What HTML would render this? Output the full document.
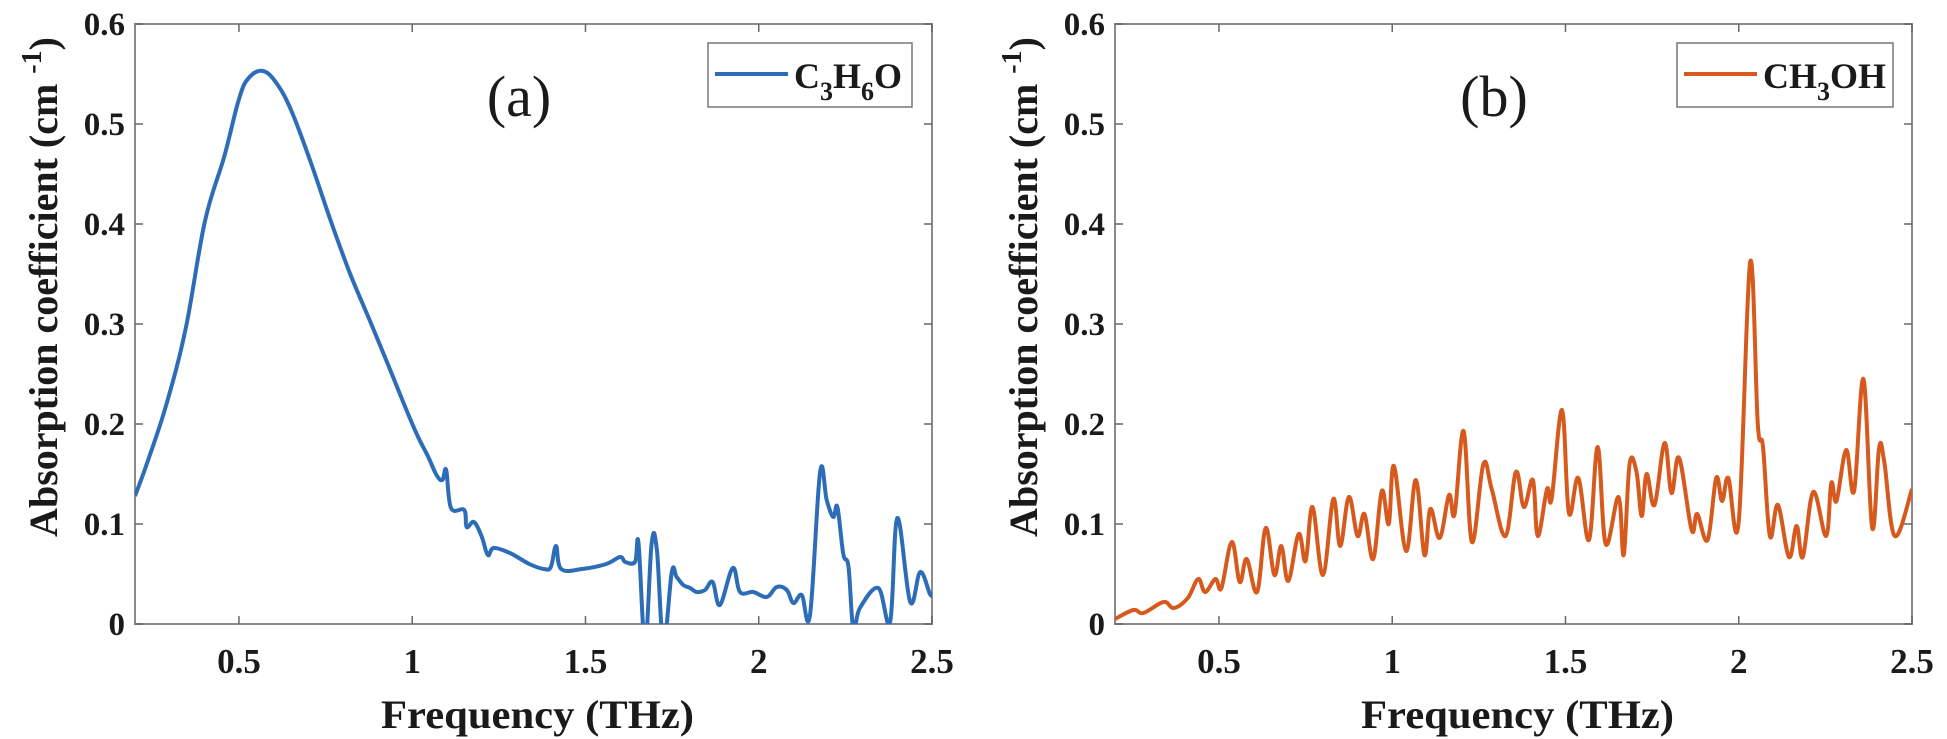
<!DOCTYPE html>
<html><head><meta charset="utf-8"><style>
html,body{margin:0;padding:0;background:#fff;}
svg{display:block;}
text{font-family:"Liberation Serif",serif;fill:#1a1a1a;}
</style></head><body>
<svg id="chart" width="1947" height="739" viewBox="0 0 1947 739" xmlns="http://www.w3.org/2000/svg">
<defs>
<clipPath id="clipA"><rect x="135" y="24" width="797" height="600"/></clipPath>
<clipPath id="clipB"><rect x="1115" y="24" width="797" height="600"/></clipPath>
</defs>
<g id="panelA"></g>
<g id="panelB"></g>
</svg>
<script>
const xTicks = [0.5, 1, 1.5, 2, 2.5];
const xTickLabels = ["0.5", "1", "1.5", "2", "2.5"];
const yTicks = [0, 0.1, 0.2, 0.3, 0.4, 0.5, 0.6];
const yTickLabels = ["0", "0.1", "0.2", "0.3", "0.4", "0.5", "0.6"];
const xDomain = [0.2, 2.5];
const yDomain = [0, 0.6];

const acetoneFreq = [0.2,0.235,0.29,0.346,0.402,0.458,0.5,0.528,0.57,0.612,0.654,0.71,0.765,0.82,0.877,0.933,0.988,1.017,1.045,1.07,1.087,1.098,1.112,1.15,1.157,1.178,1.2,1.218,1.235,1.282,1.338,1.38,1.4,1.415,1.43,1.49,1.56,1.6,1.615,1.643,1.653,1.672,1.691,1.706,1.725,1.749,1.763,1.782,1.802,1.821,1.845,1.867,1.888,1.925,1.946,1.984,2.023,2.052,2.081,2.1,2.124,2.148,2.177,2.196,2.215,2.227,2.244,2.259,2.273,2.292,2.345,2.379,2.4,2.437,2.466,2.494,2.5];
const acetoneAbs = [0.128,0.161,0.219,0.295,0.403,0.468,0.525,0.546,0.553,0.539,0.511,0.459,0.403,0.351,0.304,0.257,0.21,0.187,0.168,0.149,0.144,0.154,0.116,0.114,0.097,0.102,0.088,0.069,0.076,0.071,0.06,0.055,0.057,0.078,0.055,0.055,0.06,0.067,0.062,0.062,0.081,-0.02,0.081,0.074,-0.02,0.052,0.047,0.039,0.036,0.032,0.034,0.042,0.019,0.056,0.032,0.032,0.027,0.037,0.034,0.021,0.029,0.009,0.152,0.124,0.107,0.117,0.07,0.057,-0.005,0.016,0.036,0.002,0.106,0.022,0.052,0.03,0.03];

const methanolFreq = [0.2,0.253,0.282,0.34,0.37,0.41,0.44,0.46,0.49,0.507,0.537,0.56,0.58,0.61,0.635,0.66,0.68,0.70,0.73,0.75,0.77,0.80,0.83,0.85,0.875,0.90,0.92,0.945,0.97,0.99,1.005,1.04,1.068,1.093,1.11,1.137,1.164,1.18,1.206,1.23,1.263,1.287,1.327,1.357,1.38,1.406,1.42,1.447,1.46,1.49,1.51,1.537,1.568,1.593,1.616,1.653,1.668,1.685,1.705,1.72,1.734,1.757,1.786,1.806,1.828,1.864,1.88,1.91,1.935,1.952,1.97,2.0,2.033,2.055,2.07,2.09,2.113,2.145,2.167,2.185,2.215,2.252,2.267,2.282,2.31,2.333,2.36,2.385,2.405,2.42,2.45,2.5];
const methanolAbs = [0.005,0.014,0.011,0.022,0.016,0.026,0.045,0.032,0.045,0.036,0.082,0.042,0.065,0.032,0.096,0.049,0.078,0.043,0.09,0.063,0.117,0.049,0.125,0.078,0.127,0.088,0.11,0.065,0.133,0.1,0.158,0.073,0.144,0.069,0.115,0.086,0.129,0.11,0.193,0.082,0.16,0.135,0.088,0.152,0.117,0.144,0.088,0.135,0.125,0.214,0.111,0.146,0.084,0.177,0.08,0.127,0.069,0.16,0.152,0.108,0.15,0.119,0.181,0.131,0.166,0.094,0.11,0.084,0.146,0.123,0.146,0.102,0.362,0.2,0.177,0.088,0.119,0.067,0.098,0.067,0.132,0.088,0.141,0.123,0.174,0.133,0.245,0.096,0.176,0.162,0.088,0.135];

const NS = "http://www.w3.org/2000/svg";
const FRAME_TOP = 24, FRAME_BOT = 624, FRAME_W = 797;

function mk(tag, attrs, parent) {
  const e = document.createElementNS(NS, tag);
  for (const k in attrs) e.setAttribute(k, attrs[k]);
  parent.appendChild(e);
  return e;
}

function smoothPath(pts) {
  let d = "M" + pts[0][0].toFixed(1) + "," + pts[0][1].toFixed(1);
  for (let i = 0; i < pts.length - 1; i++) {
    const p0 = pts[Math.max(0, i - 1)], p1 = pts[i], p2 = pts[i + 1], p3 = pts[Math.min(pts.length - 1, i + 2)];
    const t = 0.18;
    const c1x = p1[0] + (p2[0] - p0[0]) * t, c1y = p1[1] + (p2[1] - p0[1]) * t;
    const c2x = p2[0] - (p3[0] - p1[0]) * t, c2y = p2[1] - (p3[1] - p1[1]) * t;
    d += "C" + c1x.toFixed(1) + "," + c1y.toFixed(1) + " " + c2x.toFixed(1) + "," + c2y.toFixed(1) + " " + p2[0].toFixed(1) + "," + p2[1].toFixed(1);
  }
  return d;
}

function drawPanel(g, left, clipId, freq, vals, color, panelLabel, labelX, legendBox, legendParts) {
  const xS = v => left + (v - xDomain[0]) / (xDomain[1] - xDomain[0]) * FRAME_W;
  const yS = v => FRAME_BOT - (v - yDomain[0]) / (yDomain[1] - yDomain[0]) * (FRAME_BOT - FRAME_TOP);
  const right = left + FRAME_W;

  // frame
  const frame = mk("rect", {x: left, y: FRAME_TOP, width: FRAME_W, height: FRAME_BOT - FRAME_TOP, fill: "none", stroke: "#8a8a8a", "stroke-width": 2}, g);
  
  

  // x ticks
  xTicks.forEach((t, i) => {
    const x = xS(t);
    const tk = mk("path", {d: "M" + x + "," + FRAME_BOT + "v-8M" + x + "," + FRAME_TOP + "v8", stroke: "#666", "stroke-width": 1.5}, g);
    
    
    const lb = mk("text", {x: x, y: 673, "text-anchor": "middle", "font-size": 35, "font-weight": "bold"}, g);
    lb.textContent = xTickLabels[i];
    
    
  });
  // y ticks
  yTicks.forEach((t, i) => {
    const y = yS(t);
    const tk = mk("path", {d: "M" + left + "," + y + "h8M" + right + "," + y + "h-8", stroke: "#666", "stroke-width": 1.5}, g);
    
    
    const lb = mk("text", {x: left - 10, y: y + 11, "text-anchor": "end", "font-size": 33, "font-weight": "bold"}, g);
    lb.textContent = yTickLabels[i];
    
    
  });

  // line
  const pts = freq.map((f, i) => [xS(f), yS(vals[i])]);
  const line = mk("path", {d: smoothPath(pts), fill: "none", stroke: color, "stroke-width": 4, "stroke-linejoin": "round", "clip-path": "url(#" + clipId + ")"}, g);
  
  

  // axis titles
  const xt = mk("text", {x: left + FRAME_W / 2 + 4, y: 728, "text-anchor": "middle", "font-size": 40, "font-weight": "bold", textLength: 313, lengthAdjust: "spacingAndGlyphs"}, g);
  xt.textContent = "Frequency (THz)";
  
  

  const yt = mk("text", {transform: "translate(" + (left - 78) + ",287) rotate(-90)", "text-anchor": "middle", "font-size": 40, "font-weight": "bold"}, g);
  
  
  yt.appendChild(document.createTextNode("Absorption coefficient (cm "));
  const sup = mk("tspan", {dy: -16, "font-size": 28}, yt);
  sup.textContent = "-1";
  const close = mk("tspan", {dy: 16}, yt);
  close.textContent = ")";

  // panel label
  const pl = mk("text", {x: labelX, y: 116, "text-anchor": "middle", "font-size": 58}, g);
  pl.textContent = panelLabel;
  
  

  // legend
  const lg = mk("g", {}, g);
  
  
  mk("rect", {x: legendBox[0], y: 43, width: legendBox[1], height: 64, fill: "#fff", stroke: "#777", "stroke-width": 1.5}, lg);
  const ls = mk("line", {x1: legendBox[0] + 7, x2: legendBox[0] + 80, y1: 74, y2: 74, stroke: color, "stroke-width": 4}, lg);
  
  
  const lt = mk("text", {x: legendBox[0] + 86, y: 88, "font-size": 36, "font-weight": "bold"}, lg);
  
  
  legendParts.forEach(p => {
    const ts = mk("tspan", p[1] ? {"font-size": 26, dy: 12} : {dy: p[2] || 0}, lt);
    ts.textContent = p[0];
  });
}

drawPanel(document.getElementById("panelA"), 135, "clipA", acetoneFreq, acetoneAbs, "#2d6db7", "(a)", 519, [708, 204],
  [["C", false], ["3", true], ["H", false, -12], ["6", true], ["O", false, -12]]);
drawPanel(document.getElementById("panelB"), 1115, "clipB", methanolFreq, methanolAbs, "#d65a1e", "(b)", 1494, [1677, 216],
  [["CH", false], ["3", true], ["OH", false, -12]]);
</script>
</body></html>
